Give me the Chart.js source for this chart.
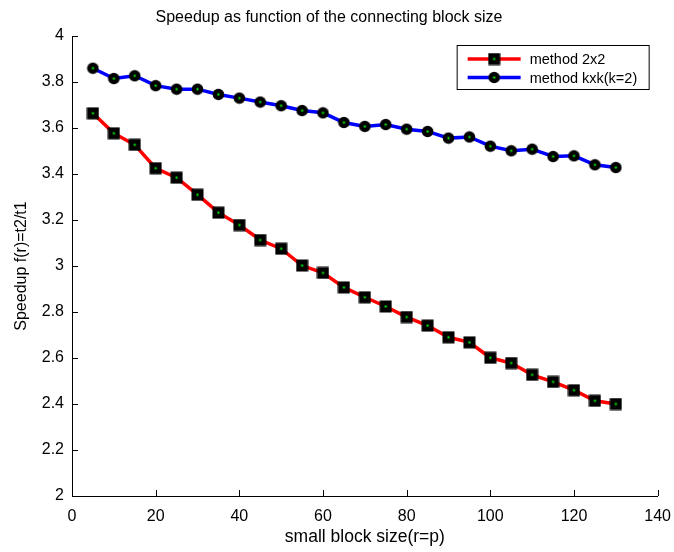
<!DOCTYPE html>
<html>
<head>
<meta charset="utf-8">
<script src="https://cdn.jsdelivr.net/npm/chart.js@4"></script>
<style>
  html, body { margin: 0; padding: 0; background: #fff; }
  #wrap { width: 674px; height: 552px; }
</style>
</head>
<body>
<div id="wrap"><canvas id="myChart"></canvas></div>
<script>
    // block sizes r=p
    const blockSizes = [5, 10, 15, 20, 25, 30, 35, 40, 45, 50, 55, 60, 65, 70, 75, 80, 85, 90, 95, 100, 105, 110, 115, 120, 125, 130];
    const speedup2x2 = [3.664, 3.577, 3.527, 3.425, 3.384, 3.310, 3.232, 3.178, 3.113, 3.075, 3.002, 2.970, 2.907, 2.864, 2.824, 2.778, 2.741, 2.690, 2.668, 2.601, 2.578, 2.527, 2.496, 2.460, 2.414, 2.400];
    const speedupKxK = [3.860, 3.815, 3.827, 3.784, 3.769, 3.769, 3.746, 3.730, 3.713, 3.697, 3.676, 3.666, 3.624, 3.607, 3.615, 3.595, 3.585, 3.556, 3.561, 3.521, 3.501, 3.508, 3.476, 3.479, 3.440, 3.428];
    const seriesNames = ['method 2x2', 'method kxk(k=2)'];
    const xTicks = [0, 20, 40, 60, 80, 100, 120, 140];
    const yTicks = [2, 2.2, 2.4, 2.6, 2.8, 3, 3.2, 3.4, 3.6, 3.8, 4];

    const FONT = 'Liberation Sans, Arial, Helvetica, sans-serif';

    function marker(shape) {
        const c = document.createElement('canvas');
        c.width = 13; c.height = 13;
        const g = c.getContext('2d');
        g.fillStyle = '#000';
        if (shape === 'circle') {
            g.beginPath();
            g.arc(6.5, 6.5, 5.8, 0, Math.PI * 2);
            g.fill();
        } else {
            g.fillRect(0.5, 0.5, 12, 12);
        }
        g.fillStyle = '#00ff00';
        g.fillRect(5.5, 5.5, 2, 2);
        return c;
    }
    const squareMark = marker('square');
    const circleMark = marker('circle');

    // matlab style inward ticks
    const inwardTicks = {
        id: 'inwardTicks',
        afterDraw(chart) {
            const g = chart.ctx, a = chart.chartArea;
            const xs = chart.scales.x, ys = chart.scales.y;
            g.save();
            g.strokeStyle = '#000';
            g.lineWidth = 1;
            g.beginPath();
            xTicks.forEach(v => {
                const p = Math.round(xs.getPixelForValue(v)) + 0.5;
                g.moveTo(p, a.bottom); g.lineTo(p, a.bottom - 6);
            });
            yTicks.forEach(v => {
                const p = Math.round(ys.getPixelForValue(v)) + 0.5;
                g.moveTo(a.left, p); g.lineTo(a.left + 6, p);
            });
            g.stroke();
            g.restore();
        }
    };

    // legend box with line + marker
    const boxLegend = {
        id: 'boxLegend',
        afterDraw(chart) {
            const g = chart.ctx, a = chart.chartArea;
            const w = 192, h = 44;
            const x0 = a.right - 9 - w, y0 = a.top + 9;
            g.save();
            g.fillStyle = '#fff';
            g.fillRect(x0, y0, w, h);
            g.strokeStyle = '#000';
            g.lineWidth = 1;
            g.strokeRect(x0 + 0.5, y0 + 0.5, w, h);
            g.font = '14.5px ' + FONT;
            g.textBaseline = 'middle';
            chart.data.datasets.forEach((ds, i) => {
                const y = y0 + 14 + i * 18.5;
                g.strokeStyle = ds.borderColor;
                g.lineWidth = 3.5;
                g.beginPath();
                g.moveTo(x0 + 11, y); g.lineTo(x0 + 64, y);
                g.stroke();
                g.drawImage(ds.pointStyle, x0 + 37.5 - 6.5, y - 6.5);
                g.fillStyle = '#000';
                g.fillText(ds.label, x0 + 73, y + 1);
            });
            g.restore();
        }
    };

    const ctx = document.getElementById('myChart');
    new Chart(ctx, {
        type: 'line',
        data: {
            datasets: [{
                label: seriesNames[0],
                data: blockSizes.map((x, i) => ({x: x, y: speedup2x2[i]})),
                borderColor: '#ff0000',
                borderWidth: 3.5,
                pointStyle: squareMark,
                tension: 0
            }, {
                label: seriesNames[1],
                data: blockSizes.map((x, i) => ({x: x, y: speedupKxK[i]})),
                borderColor: '#0000ff',
                borderWidth: 3.5,
                pointStyle: circleMark,
                tension: 0
            }]
        },
        options: {
            responsive: true,
            maintainAspectRatio: false,
            animation: false,
            layout: { padding: { top: 0, right: 16, bottom: 0, left: 0 } },
            plugins: {
                legend: { display: false },
                tooltip: { enabled: false },
                title: {
                    display: true,
                    text: 'Speedup as function of the connecting block size',
                    color: '#000',
                    font: { family: FONT, size: 16, weight: 'normal' },
                    padding: { top: 8, bottom: 8.8 }
                }
            },
            scales: {
                x: {
                    type: 'linear',
                    min: 0, max: 140,
                    afterBuildTicks: s => { s.ticks = xTicks.map(v => ({value: v})); },
                    afterFit: s => { s.height = 56; },
                    grid: { display: false },
                    border: { display: true, color: '#000', width: 1 },
                    ticks: { color: '#000', font: { family: FONT, size: 16 }, padding: 3, maxRotation: 0 },
                    title: {
                        display: true,
                        text: 'small block size(r=p)',
                        color: '#000',
                        font: { family: FONT, size: 17.5 },
                        padding: { top: 2, bottom: 4 }
                    }
                },
                y: {
                    type: 'linear',
                    min: 2, max: 4,
                    afterBuildTicks: s => { s.ticks = yTicks.map(v => ({value: v})); },
                    afterFit: s => { s.width = 72; },
                    grid: { display: false },
                    border: { display: true, color: '#000', width: 1 },
                    ticks: {
                        color: '#000',
                        font: { family: FONT, size: 16 },
                        padding: 0,
                        callback: v => String(+v.toFixed(1))
                    },
                    title: {
                        display: true,
                        text: 'Speedup f(r)=t2/t1',
                        color: '#000',
                        font: { family: FONT, size: 16 },
                        padding: { top: 11.5, bottom: 4 }
                    }
                }
            }
        },
        plugins: [inwardTicks, boxLegend]
    });
</script>
</body>
</html>
